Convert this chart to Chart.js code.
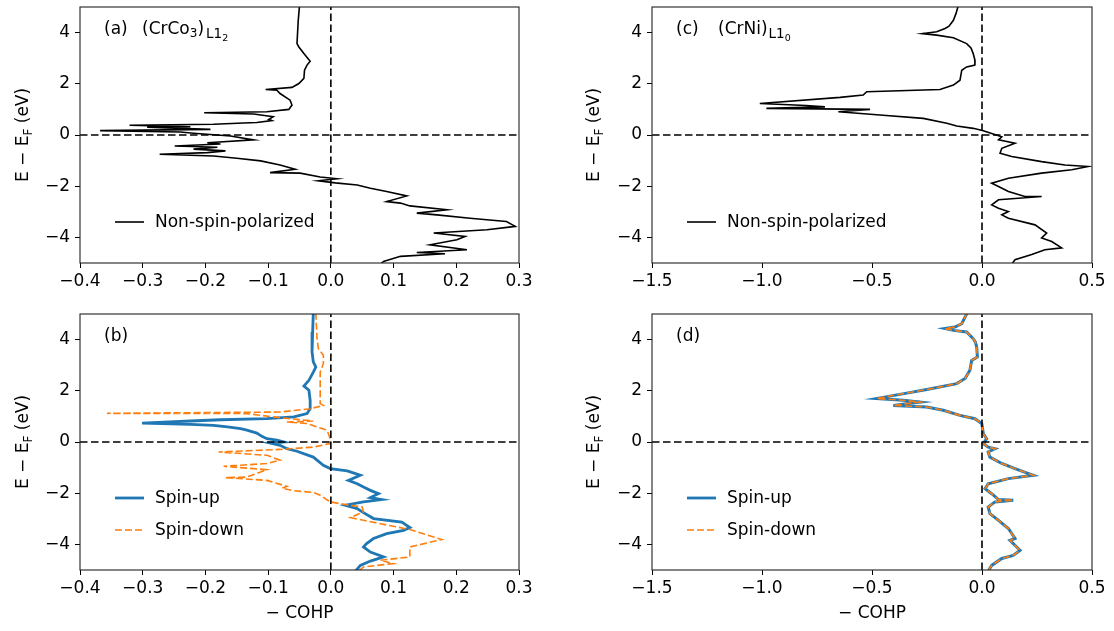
<!DOCTYPE html>
<html><head><meta charset="utf-8">
<script src="https://cdn.jsdelivr.net/npm/chart.js@4.4.1/dist/chart.umd.min.js"></script>
<style>
html,body{margin:0;padding:0;background:#fff;}
#wrap{position:relative;width:1114px;height:631px;overflow:hidden;}
canvas{position:absolute;}
</style></head><body>
<div id="wrap">
<canvas id="ca" width="557" height="300" style="left:0;top:0"></canvas>
<canvas id="cb" width="557" height="331" style="left:0;top:300px"></canvas>
<canvas id="cc" width="557" height="300" style="left:557px;top:0"></canvas>
<canvas id="cd" width="557" height="331" style="left:557px;top:300px"></canvas>
</div>
<script>
// ---- tick labels / axis ranges ----
const xTicksLeft = [-0.4, -0.3, -0.2, -0.1, 0.0, 0.1, 0.2, 0.3];
const xTicksRight = [-1.5, -1.0, -0.5, 0.0, 0.5];
const yTicks = [-4, -2, 0, 2, 4];
const yRange = [-5, 5];
const seriesLabels = ["Non-spin-polarized", "Spin-up", "Spin-down"];

// ---- (a) (CrCo3)L12 non-spin-polarized: energy (eV) and -COHP ----
const aE = [5.05,4.48,3.57,3.44,3.18,2.88,2.73,2.53,2.21,2.01,1.86,1.78,1.75,1.62,1.36,1.17,1.00,0.91,0.87,0.82,0.71,0.61,0.56,0.49,0.47,0.42,0.38,0.32,0.30,0.22,0.17,0.12,0.07,-0.04,-0.19,-0.30,-0.35,-0.43,-0.48,-0.55,-0.62,-0.69,-0.75,-0.82,-0.91,-1.01,-1.17,-1.34,-1.47,-1.49,-1.64,-1.71,-1.79,-1.87,-1.95,-2.08,-2.21,-2.38,-2.60,-2.66,-2.77,-2.92,-3.05,-3.12,-3.25,-3.38,-3.57,-3.70,-3.83,-3.96,-4.09,-4.29,-4.48,-4.59,-4.64,-4.74,-4.94,-5.05];
const aCOHP = [-0.050,-0.052,-0.054,-0.051,-0.043,-0.033,-0.038,-0.042,-0.043,-0.051,-0.062,-0.104,-0.086,-0.081,-0.065,-0.062,-0.067,-0.102,-0.202,-0.123,-0.092,-0.099,-0.094,-0.118,-0.139,-0.187,-0.321,-0.224,-0.293,-0.192,-0.368,-0.240,-0.219,-0.160,-0.123,-0.197,-0.176,-0.249,-0.181,-0.219,-0.168,-0.197,-0.273,-0.187,-0.150,-0.112,-0.081,-0.057,-0.097,-0.049,-0.017,0.010,-0.020,0.007,0.042,0.063,0.089,0.121,0.089,0.111,0.126,0.185,0.137,0.169,0.222,0.280,0.294,0.249,0.164,0.214,0.201,0.158,0.217,0.137,0.182,0.111,0.084,0.079];

// ---- (b) spin-polarized ----
const bUpE = [5.05,4.30,3.52,3.13,2.93,2.73,2.41,2.18,2.02,1.63,1.30,1.11,0.98,0.91,0.87,0.82,0.74,0.69,0.65,0.59,0.52,0.46,0.35,0.22,0.13,0.07,0.00,-0.04,-0.13,-0.26,-0.36,-0.59,-0.91,-1.04,-1.13,-1.30,-1.50,-1.63,-1.76,-1.89,-2.02,-2.17,-2.25,-2.34,-2.47,-2.60,-2.73,-2.99,-3.13,-3.34,-3.45,-3.58,-3.77,-3.97,-4.10,-4.30,-4.49,-4.65,-4.82,-5.05];
const bUpCOHP = [-0.028,-0.029,-0.030,-0.028,-0.024,-0.028,-0.035,-0.043,-0.035,-0.033,-0.033,-0.038,-0.059,-0.102,-0.176,-0.224,-0.301,-0.224,-0.187,-0.165,-0.144,-0.134,-0.118,-0.110,-0.102,-0.086,-0.075,-0.097,-0.081,-0.070,-0.054,-0.028,-0.012,-0.001,0.026,0.047,0.028,0.042,0.052,0.063,0.076,0.063,0.081,0.052,0.023,0.042,0.050,0.068,0.113,0.126,0.116,0.089,0.068,0.057,0.052,0.063,0.084,0.063,0.047,0.039];
const bDnE = [5.05,4.04,3.65,3.39,3.06,2.73,2.21,1.50,1.43,1.30,1.17,1.12,1.11,1.04,0.95,0.82,0.78,0.72,0.46,0.20,-0.06,-0.20,-0.29,-0.39,-0.52,-0.71,-0.84,-0.95,-1.08,-1.17,-1.37,-1.39,-1.50,-1.73,-1.80,-1.90,-1.97,-2.08,-2.34,-2.41,-2.54,-2.73,-2.95,-3.06,-3.42,-3.81,-4.10,-4.49,-4.62,-4.75,-4.88,-5.05];
const bDnCOHP = [-0.024,-0.022,-0.020,-0.012,-0.012,-0.017,-0.017,-0.017,-0.012,-0.033,-0.081,-0.357,-0.134,-0.112,-0.081,-0.028,-0.070,-0.038,-0.006,-0.002,-0.001,-0.028,-0.081,-0.179,-0.102,-0.081,-0.102,-0.171,-0.102,-0.112,-0.134,-0.168,-0.102,-0.070,-0.078,-0.060,-0.028,-0.017,-0.001,0.015,0.050,0.052,0.031,0.052,0.126,0.177,0.126,0.126,0.079,0.100,0.052,0.044];

// ---- (c) (CrNi)L10 non-spin-polarized ----
const cE = [5.05,4.75,4.48,4.25,4.16,4.03,3.96,3.90,3.80,3.57,3.40,3.18,2.95,2.73,2.66,2.53,2.14,1.95,1.78,1.69,1.56,1.47,1.23,1.15,1.10,1.04,1.00,0.91,0.78,0.65,0.46,0.35,0.26,0.17,0.04,-0.07,-0.19,-0.32,-0.52,-0.71,-0.84,-1.04,-1.17,-1.23,-1.36,-1.49,-1.69,-1.88,-2.01,-2.21,-2.40,-2.40,-2.47,-2.53,-2.73,-2.86,-2.99,-3.12,-3.25,-3.51,-3.83,-4.02,-4.16,-4.41,-4.48,-4.67,-4.87,-5.05];
const cCOHP = [-0.108,-0.118,-0.130,-0.150,-0.168,-0.206,-0.270,-0.206,-0.130,-0.070,-0.050,-0.040,-0.033,-0.032,-0.070,-0.092,-0.100,-0.130,-0.191,-0.524,-0.540,-0.645,-1.010,-0.800,-0.714,-0.980,-0.509,-0.653,-0.464,-0.267,-0.160,-0.115,-0.040,0.006,0.051,0.090,0.075,0.150,0.090,0.082,0.135,0.271,0.377,0.483,0.408,0.271,0.120,0.044,0.075,0.120,0.195,0.271,0.165,0.075,0.044,0.075,0.120,0.090,0.120,0.241,0.294,0.271,0.317,0.362,0.286,0.226,0.150,0.135];

// ---- (d) spin-polarized (spin-up and spin-down coincide) ----
const dUpE = [5.05,4.62,4.49,4.43,4.36,4.30,4.04,3.90,3.71,3.32,3.19,2.80,2.48,2.28,2.05,1.91,1.70,1.63,1.56,1.43,1.37,1.24,1.04,0.91,0.72,0.33,0.13,-0.06,-0.20,-0.26,-0.39,-0.59,-0.84,-1.04,-1.30,-1.43,-1.63,-1.82,-2.02,-2.25,-2.28,-2.34,-2.54,-2.80,-3.06,-3.38,-3.77,-3.84,-4.23,-4.43,-4.55,-4.82,-5.05];
const dUpCOHP = [-0.067,-0.092,-0.123,-0.168,-0.130,-0.070,-0.040,-0.030,-0.024,-0.021,-0.047,-0.055,-0.077,-0.115,-0.251,-0.342,-0.479,-0.358,-0.282,-0.403,-0.251,-0.176,-0.100,-0.032,-0.001,0.006,0.021,0.006,0.028,0.059,0.028,0.036,0.090,0.150,0.233,0.120,0.028,0.014,0.044,0.075,0.142,0.059,0.028,0.036,0.075,0.120,0.150,0.127,0.173,0.142,0.090,0.044,0.028];
const dDnE = dUpE.slice();
const dDnCOHP = dUpCOHP.slice();

// ---- helpers ----
const FONT = '"DejaVu Sans", sans-serif';
const BLUE = '#1f77b4', ORANGE = '#ff7f0e';
function pts(E, C) { return E.map((e, i) => ({ x: C[i], y: e })); }
function fmt(v, d) { if (Math.abs(v) < 1e-9) return (0).toFixed(d); return (v < 0 ? '\u2212' : '') + Math.abs(v).toFixed(d); }
function rich(ctx, x, y, segs, center) {
  let w = 0;
  segs.forEach(s => { ctx.font = s.size + 'px ' + FONT; w += ctx.measureText(s.t).width + (s.gap || 0); });
  let cx = center ? x - w / 2 : x;
  segs.forEach(s => { cx += (s.gap || 0); ctx.font = s.size + 'px ' + FONT; ctx.fillText(s.t, cx, y + (s.dy || 0)); cx += ctx.measureText(s.t).width; });
}

function makePanel(id, cfg) {
  const canvas = document.getElementById(id);
  const ds = cfg.series.map(s => ({
    data: pts(s.E, s.C), borderColor: s.color, borderWidth: s.width, borderDash: s.dash || [],
    showLine: true, pointRadius: 0, tension: 0, fill: false, order: s.order
  }));
  const xmin = cfg.xticks[0], xmax = cfg.xticks[cfg.xticks.length - 1];
  ds.push({ data: [{ x: xmin, y: 0 }, { x: xmax, y: 0 }], borderColor: '#000', borderWidth: 1.6, borderDash: [7.5, 3.5], showLine: true, pointRadius: 0, order: 0 });
  ds.push({ data: [{ x: 0, y: yRange[0] }, { x: 0, y: yRange[1] }], borderColor: '#000', borderWidth: 1.6, borderDash: [7.5, 3.5], showLine: true, pointRadius: 0, order: 0 });
  const deco = {
    id: 'deco' + id,
    afterDraw(chart) {
      const ctx = chart.ctx, a = chart.chartArea;
      ctx.save();
      ctx.strokeStyle = '#222'; ctx.lineWidth = 1.1;
      ctx.strokeRect(a.left, a.top, a.right - a.left, a.bottom - a.top);
      ctx.fillStyle = '#000'; ctx.textBaseline = 'alphabetic';
      rich(ctx, a.left + 24, a.top + 27, [{ t: cfg.tag, size: 17 }]);
      if (cfg.title) rich(ctx, a.left + cfg.titleX, a.top + 27, cfg.title);
      cfg.legend.forEach((L, i) => {
        const y = a.top + cfg.legendY[i];
        ctx.beginPath(); ctx.strokeStyle = L.color; ctx.lineWidth = L.width; ctx.setLineDash(L.dash || []);
        ctx.moveTo(a.left + 35, y); ctx.lineTo(a.left + 64, y); ctx.stroke(); ctx.setLineDash([]);
        ctx.fillStyle = '#000'; ctx.textBaseline = 'middle';
        ctx.font = '17px ' + FONT; ctx.fillText(L.label, a.left + 75, y + 1);
      });
      ctx.textBaseline = 'alphabetic';
      ctx.save();
      ctx.translate(cfg.ylabelX, (a.top + a.bottom) / 2);
      ctx.rotate(-Math.PI / 2);
      rich(ctx, 0, 0, [{ t: 'E \u2212 E', size: 17 }, { t: 'F', size: 12, dy: 4 }, { t: ' (eV)', size: 17 }], true);
      ctx.restore();
      if (cfg.xlabel) rich(ctx, (a.left + a.right) / 2, a.bottom + 48, [{ t: '\u2212 COHP', size: 17 }], true);
      ctx.restore();
    }
  };
  return new Chart(canvas, {
    type: 'scatter',
    data: { datasets: ds },
    options: {
      responsive: false, animation: false, devicePixelRatio: 1,
      layout: { padding: { top: cfg.top, right: cfg.right, left: 0, bottom: 0 } },
      plugins: { legend: { display: false }, tooltip: { enabled: false } },
      scales: {
        x: {
          type: 'linear', min: xmin, max: xmax,
          afterBuildTicks: s => { s.ticks = cfg.xticks.map(v => ({ value: v })); },
          afterFit: s => { s.height = cfg.xh; s.paddingLeft = 0; s.paddingRight = 0; },
          ticks: { callback: v => fmt(v, 1), autoSkip: false, maxRotation: 0, padding: 3, color: '#000', font: { family: FONT, size: 17 } },
          grid: { display: true, drawOnChartArea: false, drawTicks: true, tickLength: 5, color: '#000', lineWidth: 1 },
          border: { display: false }
        },
        y: {
          type: 'linear', min: yRange[0], max: yRange[1],
          afterBuildTicks: s => { s.ticks = yTicks.map(v => ({ value: v })); },
          afterFit: s => { s.width = cfg.yw; s.paddingTop = 0; s.paddingBottom = 0; },
          ticks: { callback: v => fmt(v, 0), autoSkip: false, padding: 5, color: '#000', font: { family: FONT, size: 17 } },
          grid: { display: true, drawOnChartArea: false, drawTicks: true, tickLength: 5, color: '#000', lineWidth: 1 },
          border: { display: false }
        }
      }
    },
    plugins: [deco]
  });
}

const title_a = [{ t: '(CrCo', size: 17 }, { t: '3', size: 12, dy: 3 }, { t: ')', size: 17 }, { t: 'L1', size: 13.5, dy: 4, gap: 2 }, { t: '2', size: 9.5, dy: 6.5 }];
const title_c = [{ t: '(CrNi)', size: 17 }, { t: 'L1', size: 13.5, dy: 4, gap: 1 }, { t: '0', size: 9.5, dy: 6.5 }];

makePanel('ca', {
  xticks: xTicksLeft, top: 7, right: 38, yw: 80, xh: 37, ylabelX: 28, tag: '(a)', title: title_a, titleX: 62,
  series: [{ E: aE, C: aCOHP, color: '#000', width: 1.6, order: 2 }],
  legend: [{ label: seriesLabels[0], color: '#000', width: 1.6 }], legendY: [215]
});
makePanel('cb', {
  xticks: xTicksLeft, top: 14, right: 38, yw: 80, xh: 61, ylabelX: 28, tag: '(b)', xlabel: true,
  series: [{ E: bUpE, C: bUpCOHP, color: BLUE, width: 2.8, order: 2 }, { E: bDnE, C: bDnCOHP, color: ORANGE, width: 1.6, dash: [7, 3], order: 1 }],
  legend: [{ label: seriesLabels[1], color: BLUE, width: 2.8 }, { label: seriesLabels[2], color: ORANGE, width: 1.6, dash: [7, 3] }], legendY: [184, 216]
});
makePanel('cc', {
  xticks: xTicksRight, top: 7, right: 22, yw: 95, xh: 37, ylabelX: 42, tag: '(c)', title: title_c, titleX: 66,
  series: [{ E: cE, C: cCOHP, color: '#000', width: 1.6, order: 2 }],
  legend: [{ label: seriesLabels[0], color: '#000', width: 1.6 }], legendY: [215]
});
makePanel('cd', {
  xticks: xTicksRight, top: 14, right: 22, yw: 95, xh: 61, ylabelX: 42, tag: '(d)', xlabel: true,
  series: [{ E: dUpE, C: dUpCOHP, color: BLUE, width: 3, order: 2 }, { E: dDnE, C: dDnCOHP, color: ORANGE, width: 1.6, dash: [7, 3], order: 1 }],
  legend: [{ label: seriesLabels[1], color: BLUE, width: 2.8 }, { label: seriesLabels[2], color: ORANGE, width: 1.6, dash: [7, 3] }], legendY: [184, 216]
});
</script>
</body></html>
